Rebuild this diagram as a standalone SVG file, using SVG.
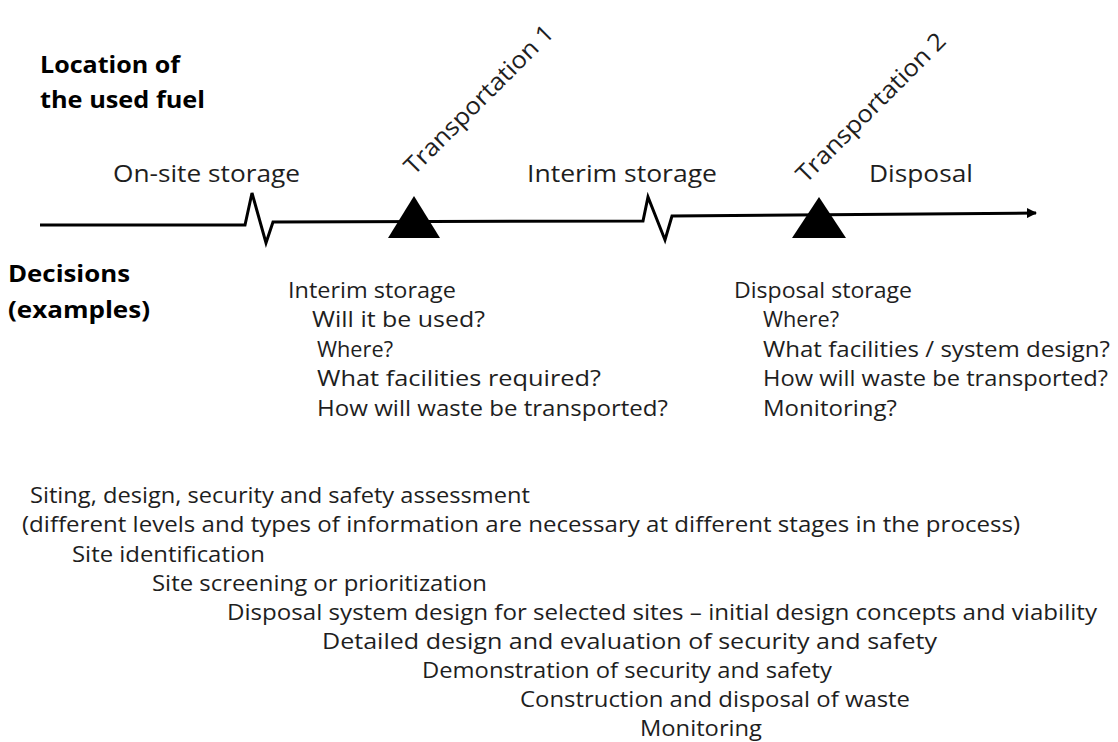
<svg xmlns="http://www.w3.org/2000/svg" width="1118" height="742" viewBox="0 0 1118 742">
<style>
text{font-family:"Open Sans","Noto Sans","Liberation Sans",sans-serif;fill:#1e1e1e}
.h{font-size:24px}
.b{font-size:24px;font-weight:bold;fill:#000}
.t{font-size:21px}
.ln{fill:none;stroke:#000;stroke-width:3;stroke-linejoin:miter}
</style>
<defs>
<marker id="ah" markerWidth="10" markerHeight="10" refX="9" refY="5" orient="auto" markerUnits="userSpaceOnUse" viewBox="0 0 10 10">
<path d="M0,0 L10,5 L0,10 z" fill="#000"/>
</marker>
</defs>
<rect width="1118" height="742" fill="#fff"/>
<g id="labels-left">
<text class="b" x="40" y="73" textLength="140" lengthAdjust="spacingAndGlyphs">Location of</text>
<text class="b" x="40" y="108" textLength="165" lengthAdjust="spacingAndGlyphs">the used fuel</text>
<text class="b" x="8" y="282" textLength="122" lengthAdjust="spacingAndGlyphs">Decisions</text>
<text class="b" x="8" y="318" textLength="142" lengthAdjust="spacingAndGlyphs">(examples)</text>
</g>
<g id="connectors">
<path class="ln" d="M40,225 L245,225 L252,193 L266,243 L273,222 L643,221 L648,197 L665,240 L672,216 L1036,213" marker-end="url(#ah)"/>
</g>
<g id="stage-onsite"><text class="h" x="113" y="182" textLength="187" lengthAdjust="spacingAndGlyphs">On-site storage</text></g>
<g id="stage-interim"><text class="h" x="527" y="182" textLength="190" lengthAdjust="spacingAndGlyphs">Interim storage</text></g>
<g id="stage-disposal"><text class="h" x="869" y="182" textLength="104" lengthAdjust="spacingAndGlyphs">Disposal</text></g>
<g id="transport1">
<polygon points="414,196 440,238 388,238" fill="#000"/>
<text class="h" transform="translate(414,176) rotate(-45)" textLength="200" lengthAdjust="spacingAndGlyphs">Transportation 1</text>
</g>
<g id="transport2">
<polygon points="819,197 846,238 792,238" fill="#000"/>
<text class="h" transform="translate(806,184) rotate(-45)" textLength="200" lengthAdjust="spacingAndGlyphs">Transportation 2</text>
</g>
<g id="decisions-interim">
<text class="t" x="288" y="298" textLength="168" lengthAdjust="spacingAndGlyphs">Interim storage</text>
<text class="t" x="312" y="327" textLength="173" lengthAdjust="spacingAndGlyphs">Will it be used?</text>
<text class="t" x="317" y="357" textLength="76" lengthAdjust="spacingAndGlyphs">Where?</text>
<text class="t" x="317" y="386" textLength="284" lengthAdjust="spacingAndGlyphs">What facilities required?</text>
<text class="t" x="317" y="416" textLength="351" lengthAdjust="spacingAndGlyphs">How will waste be transported?</text>
</g>
<g id="decisions-disposal">
<text class="t" x="734" y="298" textLength="178" lengthAdjust="spacingAndGlyphs">Disposal storage</text>
<text class="t" x="763" y="327" textLength="76" lengthAdjust="spacingAndGlyphs">Where?</text>
<text class="t" x="763" y="357" textLength="347" lengthAdjust="spacingAndGlyphs">What facilities / system design?</text>
<text class="t" x="763" y="386" textLength="345" lengthAdjust="spacingAndGlyphs">How will waste be transported?</text>
<text class="t" x="763" y="416" textLength="134" lengthAdjust="spacingAndGlyphs">Monitoring?</text>
</g>
<g id="process">
<text class="t" x="30" y="503" textLength="500" lengthAdjust="spacingAndGlyphs">Siting, design, security and safety assessment</text>
<text class="t" x="22" y="532" textLength="998" lengthAdjust="spacingAndGlyphs">(different levels and types of information are necessary at different stages in the process)</text>
<text class="t" x="72" y="562" textLength="193" lengthAdjust="spacingAndGlyphs">Site identification</text>
<text class="t" x="152" y="591" textLength="335" lengthAdjust="spacingAndGlyphs">Site screening or prioritization</text>
<text class="t" x="227" y="620" textLength="870" lengthAdjust="spacingAndGlyphs">Disposal system design for selected sites – initial design concepts and viability</text>
<text class="t" x="322" y="649" textLength="615" lengthAdjust="spacingAndGlyphs">Detailed design and evaluation of security and safety</text>
<text class="t" x="422" y="678" textLength="410" lengthAdjust="spacingAndGlyphs">Demonstration of security and safety</text>
<text class="t" x="520" y="707" textLength="390" lengthAdjust="spacingAndGlyphs">Construction and disposal of waste</text>
<text class="t" x="640" y="736" textLength="122" lengthAdjust="spacingAndGlyphs">Monitoring</text>
</g>
</svg>
